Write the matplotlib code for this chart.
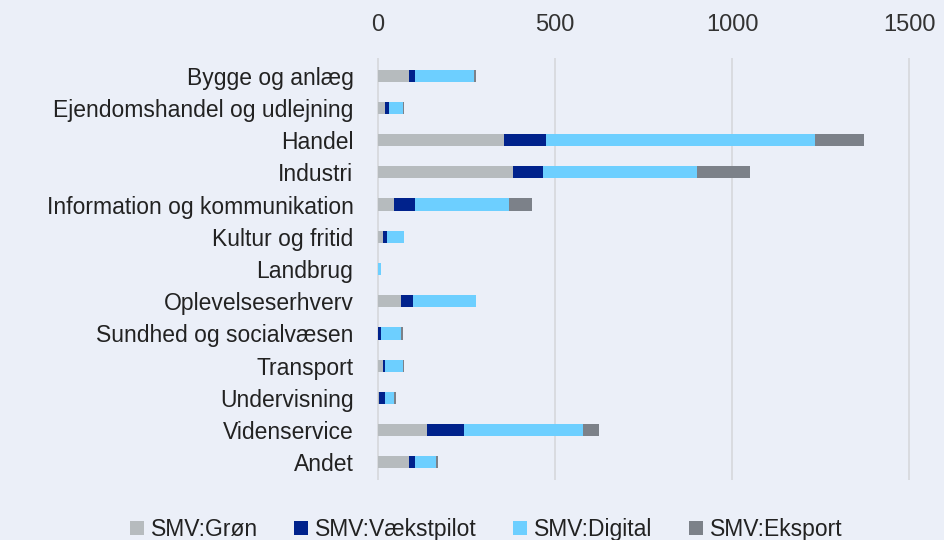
import numpy as np
import matplotlib.pyplot as plt

categories = ['Bygge og anlæg', 'Ejendomshandel og udlejning', 'Handel', 'Industri',
              'Information og kommunikation', 'Kultur og fritid', 'Landbrug',
              'Oplevelseserhverv', 'Sundhed og socialvæsen', 'Transport',
              'Undervisning', 'Videnservice', 'Andet']
series_names = ['SMV:Grøn', 'SMV:Vækstpilot', 'SMV:Digital', 'SMV:Eksport']
groen = [89, 20, 357, 382, 45, 14, 2, 65, 2, 14, 5, 139, 89]
vaekst = [15, 11, 119, 84, 59, 11, 0, 35, 8, 6, 15, 104, 15]
digital = [169, 39, 758, 436, 267, 49, 8, 178, 55, 50, 25, 337, 60]
eksport = [5, 4, 139, 148, 65, 0, 0, 0, 5, 5, 6, 45, 5]

colors = ['#B6BBBE', '#00228C', '#6DCFFF', '#7C8189']
bg = '#EBEFF8'

plt.rcParams['font.family'] = ['Liberation Sans', 'DejaVu Sans']

fig = plt.figure(figsize=(9.44, 5.4), dpi=100, facecolor=bg)
ax = fig.add_axes([377 / 944, 1 - 480 / 540, (910 - 377) / 944, (480 - 58) / 540])
ax.set_facecolor(bg)

y = np.arange(len(categories))
left = np.zeros(len(categories))
for name, vals, c in zip(series_names, [groen, vaekst, digital, eksport], colors):
    ax.barh(y, vals, left=left, height=0.38, color=c, label=name, zorder=3)
    left += np.array(vals)

ax.set_ylim(len(categories) - 0.5 + 0.05, -0.5 - 0.05)
ax.set_xticks([0, 500, 1000, 1500])
ax.xaxis.tick_top()
ax.tick_params(axis='x', length=0, labelsize=17, pad=16, colors='#333333')
ax.tick_params(axis='y', length=0, labelsize=16.5, pad=17, colors='#222222')
ax.set_yticks(y)
ax.set_yticklabels(categories)
ax.grid(axis='x', color='#D6D8DC', lw=1.2, zorder=0)
ax.set_axisbelow(True)
for s in ax.spines.values():
    s.set_visible(False)
ax.set_xlim(-2, 1502)

fig.legend(loc='lower center', bbox_to_anchor=(0.515, -0.04), ncol=4, frameon=False,
           fontsize=16.5, handlelength=0.6, handleheight=0.6, handletextpad=0.3,
           columnspacing=1.6, labelcolor='#222222')

fig.savefig('out.png', dpi=100, facecolor=bg)
